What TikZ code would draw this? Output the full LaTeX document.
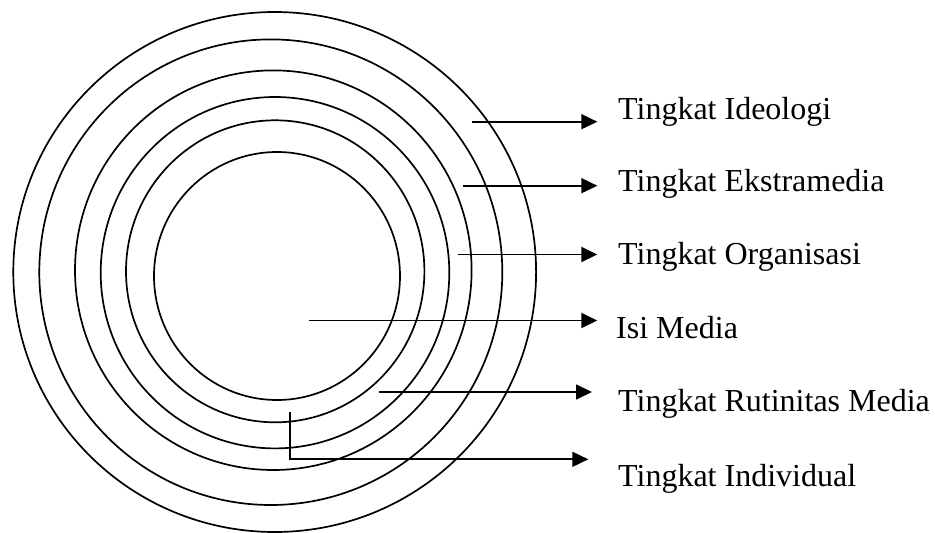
\documentclass[tikz,border=0pt]{standalone}
\usepackage{fontspec}
\setmainfont{Liberation Serif}
\usetikzlibrary{arrows.meta}

\tikzset{
  ring/.style={draw=black, line width=1.7pt},
  pointer/.style={draw=black, line width=1.7pt, -{Triangle[length=16pt,width=15pt]}},
  levellabel/.style={anchor=base west, inner sep=0pt, font=\fontsize{32}{38}\selectfont}
}

\begin{document}
\begin{tikzpicture}[x=1pt, y=-1pt]
  \useasboundingbox (0,0) rectangle (935,533);

  % concentric levels, outermost first
  \draw[ring] (274.7,272.0) ellipse [x radius=261.4, y radius=260.0];
  \draw[ring] (270.8,272.2) ellipse [x radius=231.5, y radius=232.8];
  \draw[ring] (273.3,270.2) ellipse [x radius=198.3, y radius=199.8];
  \draw[ring] (275.0,272.7) ellipse [x radius=174.3, y radius=175.7];
  \draw[ring] (275.2,271.3) ellipse [x radius=149.2, y radius=151.0];
  \draw[ring] (277.0,276.0) ellipse [x radius=123.0, y radius=124.0];

  % labels
  \node[levellabel] (ideologi)    at (618,119.3) {Tingkat Ideologi};
  \node[levellabel] (ekstramedia) at (618,191.7) {Tingkat Ekstramedia};
  \node[levellabel] (organisasi)  at (618,264.5) {Tingkat Organisasi};
  \node[levellabel] (isimedia)    at (616,338.3) {Isi Media};
  \node[levellabel] (rutinitas)   at (618,411.7) {Tingkat Rutinitas Media};
  \node[levellabel] (individual)  at (618,486.0) {Tingkat Individual};

  % arrow start points inside the rings
  \coordinate (s1) at (472.3,121.7);
  \coordinate (s2) at (463.3,185.7);
  \coordinate (s3) at (457.5,254.5);
  \coordinate (s4) at (309.3,320.5);
  \coordinate (s5) at (379.3,392.0);
  \coordinate (s6) at (290.0,411.7);
  \coordinate (k6) at (290.0,459.3);

  % arrow tips beside the labels
  \coordinate (t1) at (597.3,121.7);
  \coordinate (t2) at (597.3,185.7);
  \coordinate (t3) at (597.3,254.5);
  \coordinate (t4) at (597.3,320.5);
  \coordinate (t5) at (592.0,392.0);
  \coordinate (t6) at (588.3,459.3);

  \draw[pointer] (s1) -- (t1);
  \draw[pointer] (s2) -- (t2);
  \draw[pointer] (s3) -- (t3);
  \draw[pointer] (s4) -- (t4);
  \draw[pointer] (s5) -- (t5);
  \draw[pointer] (s6) -- (k6) -- (t6);
\end{tikzpicture}
\end{document}
